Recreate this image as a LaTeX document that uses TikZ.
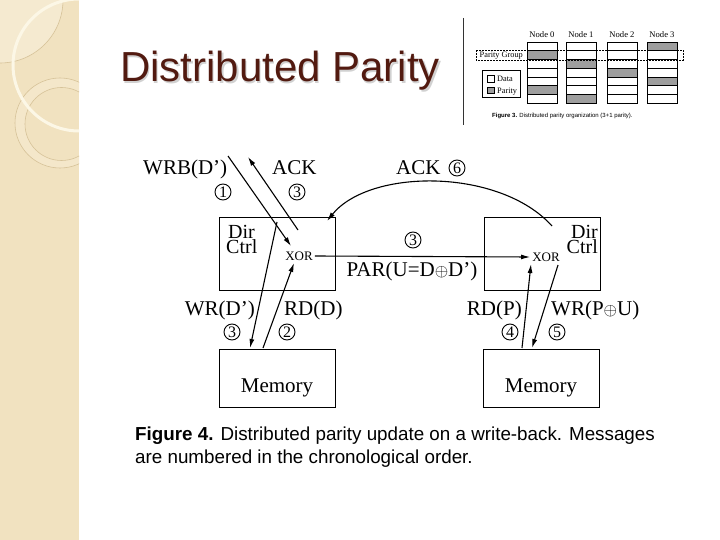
\documentclass[tikz,border=0pt]{standalone}
\usepackage{fontspec}
\setmainfont{Liberation Serif}
\newfontfamily\arial{Liberation Sans}
\usetikzlibrary{arrows.meta,patterns}
\definecolor{strip}{RGB}{241,226,192}
\definecolor{striplight}{RGB}{245,234,208}
\definecolor{ringc}{RGB}{214,194,152}
\definecolor{arcw}{RGB}{252,247,230}
\definecolor{titlec}{RGB}{82,26,16}
\newcommand{\xop}{{\fontsize{17}{17}\selectfont$\oplus$}}
\tikzset{
  box/.style={draw, line width=1pt, inner sep=0, minimum width=116pt},
  lbl/.style={inner sep=0, font=\fontsize{21}{21}\selectfont},
  xorlbl/.style={inner sep=2pt, font=\fontsize{13}{13}\selectfont},
  num/.style={circle, draw, line width=0.9pt, inner sep=0, minimum size=16pt, font=\fontsize{16}{16}\selectfont},
  msg/.style={line width=1.1pt, -{Latex[length=9pt,width=5pt]}},
  cell/.style={draw, line width=0.6pt},
  hatch/.style={cell, fill=black!38},
  small/.style={inner sep=0, font=\fontsize{8.6}{8.6}\selectfont},
}
\begin{document}
\begin{tikzpicture}[x=1pt,y=-1pt]
\useasboundingbox (0,0) rectangle (720,540);
\fill[white] (0,0) rectangle (720,540);
% decorative strip
\fill[strip] (0,0) rectangle (79,540);
\begin{scope}
  \clip (0,0) rectangle (79,540);
  \fill[striplight] (0,0) circle (63);
  \draw[ringc, line width=0.6pt] (0,0) circle (63);
  \fill[striplight!60!strip, even odd rule] (60,123) circle (45) (61.5,124) circle (36.5);
  \draw[ringc, line width=0.6pt] (60,123) circle (45);
  \draw[ringc, line width=0.6pt] (61.5,124) circle (36.5);
  \draw[arcw, line width=3pt] (79,65) circle (66);
\end{scope}
% title
\node[anchor=base west, inner sep=0, font=\arial\fontsize{42}{42}\selectfont, text=black!18] at (121.2,83.2) {Distributed Parity};
\node[anchor=base west, inner sep=0, font=\arial\fontsize{42}{42}\selectfont, text=titlec] (title) at (120,82) {Distributed Parity};

% ---------- Figure 3 inset ----------
\draw[line width=0.8pt, black!80] (463,18) -- (463,125);
\foreach \x/\n in {527/0,566/1,607/2,647/3}{
  \node[small, anchor=base] (node\n) at (\x+15,38) {Node \n};
  \foreach \r in {0,...,6}{
    \draw[cell] (\x,42+\r*8.75) rectangle (\x+30,50.75+\r*8.75);
  }
}
\foreach \x/\r in {527/1,527/5,566/2,566/6,607/3,647/0,647/4}{
  \draw[hatch] (\x,42+\r*8.75) rectangle (\x+30,50.75+\r*8.75);
}
\draw[line width=0.7pt, dash pattern=on 2pt off 1pt] (476,50.3) rectangle (683,60.2);
\node[small, anchor=base west, fill=white, inner sep=0.5pt, font=\fontsize{8.3}{8.3}\selectfont] (pg) at (479,57.5) {Parity Group};
\draw[line width=0.6pt] (482,70) rectangle (520,97);
\draw[cell, fill=white] (487,75) rectangle (494,82);
\draw[hatch] (487,87) rectangle (494,93);
\node[small, anchor=base west, font=\fontsize{8.3}{8.3}\selectfont] (ldata) at (497,82) {Data};
\node[small, anchor=base west, font=\fontsize{8.3}{8.3}\selectfont] (lpar) at (497,93.5) {Parity};
\node[anchor=base west, inner sep=0, font=\arial\fontsize{6}{6}\selectfont] (cap3) at (492,118) {\textbf{Figure 3.} Distributed parity organization (3+1 parity).};

% ---------- Figure 4 ----------
\node[box, minimum height=72pt] (ldir) at (277,254) {};
\node[box, minimum height=72pt] (rdir) at (542,254) {};
\node[box, minimum height=58pt] (lmem) at (277,378) {};
\node[box, minimum height=58pt] (rmem) at (541,378) {};

\node[lbl, anchor=north west, align=left, font=\fontsize{20}{15}\selectfont] (ldirt) at (226,225) {\hspace*{2pt}Dir\\Ctrl};
\node[lbl, anchor=north east, align=right, font=\fontsize{20}{15}\selectfont] (rdirt) at (598,225) {Dir\\Ctrl};
\node[lbl, anchor=base] (lmemt) at (277,392) {Memory};
\node[lbl, anchor=base] (rmemt) at (541,392) {Memory};

\node[xorlbl] (lx) at (299,256) {XOR};
\node[xorlbl] (rx) at (546,257) {XOR};

% connector end points
\coordinate (wrbS) at (228,156);
\coordinate (wrbE) at (291,246);
\coordinate (ackS) at (298,230);
\coordinate (ackE) at (248,157);
\coordinate (wrdS) at (277,222);
\coordinate (wrdE) at (250,348);
\coordinate (rddS) at (263,348);
\coordinate (rddE) at (294,263);
\coordinate (ack6S) at (552,226);
\coordinate (ack6E) at (327,221);
\coordinate (rdpS) at (522,348);
\coordinate (rdpE) at (531,264);
\coordinate (wrpS) at (558,265);
\coordinate (wrpE) at (532,348);

\draw[msg] (wrbS) -- (wrbE);
\draw[msg] (ackS) -- (ackE);
\draw[msg] (wrdS) -- (wrdE);
\draw[msg] (rddS) -- (rddE);
\draw[msg] (ack6S) .. controls (500,168) and (370,168) .. (ack6E);
\draw[msg] (lx.east) -- (rx.west);
\draw[msg] (rdpS) -- (rdpE);
\draw[msg] (wrpS) -- (wrpE);

% labels
\node[lbl, anchor=base west] (twrb) at (143,175) {WRB(D’)};
\node[num] (n1) at (223,192) {1};
\node[lbl, anchor=base west] (tack) at (272,175) {ACK};
\node[num] (n3a) at (297,192) {3};
\node[lbl, anchor=base west] (tack6) at (396,175) {ACK};
\node[num] (n6) at (457,168) {6};
\node[num] (n3b) at (413,240) {3};
\node[lbl, anchor=base] (tpar) at (412,276) {PAR(U=D\xop D’)};
\node[lbl, anchor=base east] (twrd) at (255,315) {WR(D’)};
\node[num] (n3c) at (232,332) {3};
\node[lbl, anchor=base west] (trdd) at (284,315) {RD(D)};
\node[num] (n2) at (287,332) {2};
\node[lbl, anchor=base east] (trdp) at (522,315) {RD(P)};
\node[num] (n4) at (510,332) {4};
\node[lbl, anchor=base west] (twrp) at (551,315) {WR(P\xop U)};
\node[num] (n5) at (557,332) {5};

% caption
\node[anchor=base west, inner sep=0, font=\arial\fontsize{18.8}{18.8}\selectfont] (cap4a) at (135,440) {\textbf{Figure 4.} Distributed parity update on a write-back. Messages};
\node[anchor=base west, inner sep=0, font=\arial\fontsize{18.8}{18.8}\selectfont] (cap4b) at (135,463) {are numbered in the chronological order.};
\end{tikzpicture}
\end{document}
